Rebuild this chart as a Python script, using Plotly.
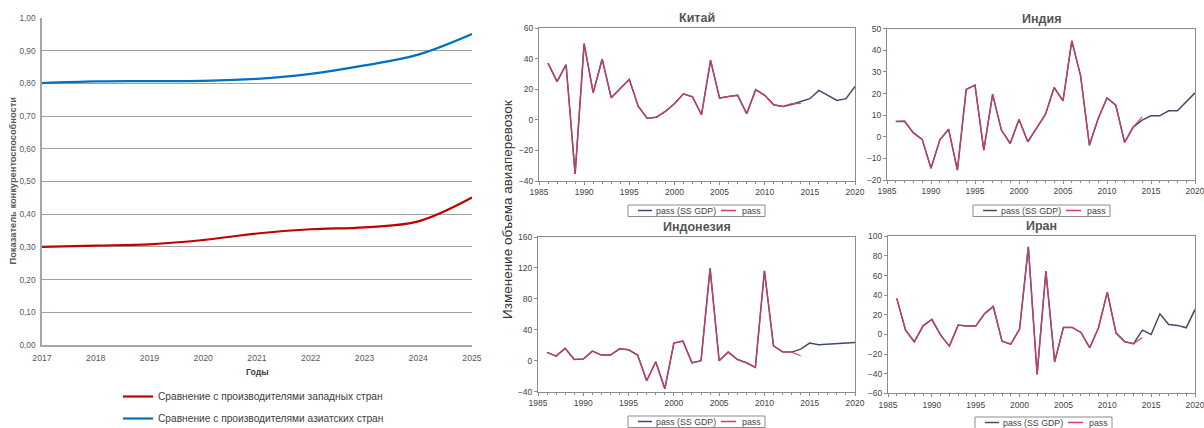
import plotly.graph_objects as go

W, H = 1204, 428

# ---------------- Left chart data ----------------
years_left = [2017, 2018, 2019, 2020, 2021, 2022, 2023, 2024, 2025]
west = [0.300, 0.304, 0.308, 0.321, 0.341, 0.354, 0.360, 0.378, 0.451]
asia = [0.801, 0.806, 0.807, 0.808, 0.814, 0.829, 0.855, 0.888, 0.951]
left_ticks = [2017, 2018, 2019, 2020, 2021, 2022, 2023, 2024, 2025]
name_west = "Сравнение с производителями западных стран"
name_asia = "Сравнение с производителями азиатских стран"

# ---------------- Right panels data ----------------
years_ss = list(range(1986, 2021))
years_pass = list(range(1986, 2015))

china_ss = [37, 25, 36, -35.4, 49.8, 17.7, 39.7, 14.4, 20.5, 26.4, 8.7, 0.9, 1.7, 5.5, 10.5,
            17, 15, 3.3, 38.9, 14.2, 15.3, 16, 4, 19.7, 16, 9.8, 8.7, 10, 12, 13.8, 19.2,
            16, 12.7, 13.8, 21.8]
china_pass = [37, 25, 36, -35.4, 49.8, 17.7, 39.7, 14.4, 20.5, 26.4, 8.7, 0.9, 1.7, 5.5, 10.5,
              17, 15, 3.3, 38.9, 14.2, 15.3, 16, 4, 19.7, 16, 9.8, 8.7, 10.5, 10.8]

india_ss = [7.1, 7.2, 1.8, -1.2, -14.6, -1.5, 3.5, -15.4, 21.9, 23.9, -6.2, 19.6, 3.1, -3.1, 8,
            -2.3, 4, 10.3, 22.8, 16.6, 44.4, 28.2, -3.9, 8.5, 18, 14.6, -2.6, 4.6, 7.7, 9.7,
            9.7, 12, 12, 16.2, 20.3]
india_pass = [7.1, 7.2, 1.8, -1.2, -14.6, -1.5, 3.5, -15.4, 21.9, 23.9, -6.2, 19.6, 3.1, -3.1, 8,
              -2.3, 4, 10.3, 22.8, 16.6, 44.4, 28.2, -3.9, 8.5, 18, 14.6, -2.6, 4.6, 9.2]

indonesia_ss = [10.8, 6, 16, 1.7, 2.2, 12.5, 7.3, 7.3, 15.5, 14.2, 7.3, -25.9, -1.3, -36.2, 22.8,
                25.4, -2.6, 0, 119.4, 0, 11.2, 1.7, -2.6, -8.6, 116.4, 19.4, 11.6, 11.2, 15,
                22.8, 20.7, 21.5, 22, 22.5, 23.5]
indonesia_pass = [10.8, 6, 16, 1.7, 2.2, 12.5, 7.3, 7.3, 15.5, 14.2, 7.3, -25.9, -1.3, -36.2, 22.8,
                  25.4, -2.6, 0, 119.4, 0, 11.2, 1.7, -2.6, -8.6, 116.4, 19.4, 11.6, 11.2, 6.5]

iran_ss = [36.7, 4.4, -7.5, 8.8, 15.3, -0.7, -11.9, 9.5, 8.5, 8.5, 21, 28.5, -6.8, -9.9, 5.4,
           89.3, -40.8, 64.5, -27.9, 7.1, 7.1, 2, -13.6, 6.8, 43.1, 1.4, -7.5, -9.5, 4.4, 0,
           21, 10.2, 9.2, 6.8, 25.5]
iran_pass = [36.7, 4.4, -7.5, 8.8, 15.3, -0.7, -11.9, 9.5, 8.5, 8.5, 21, 28.5, -6.8, -9.9, 5.4,
             89.3, -40.8, 64.5, -27.9, 7.1, 7.1, 2, -13.6, 6.8, 43.1, 1.4, -7.5, -9.5, -3.1]

panel_titles = ["Китай", "Индия", "Индонезия", "Иран"]
panel_ranges = [(-40, 60, 20), (-20, 50, 10), (-40, 160, 40), (-60, 100, 20)]
panel_ss = [china_ss, india_ss, indonesia_ss, iran_ss]
panel_pass = [china_pass, india_pass, indonesia_pass, iran_pass]
name_ss = "pass (SS GDP)"
name_pass = "pass"


def px(x):
    return x / W


def py(y):
    return 1 - y / H


NAVY = "#3f4b6e"
CRIMSON = "#d63a68"
FONT = "Liberation Sans, Arial, sans-serif"

fig = go.Figure()

# left chart traces
fig.add_trace(go.Scatter(x=years_left, y=west, name=name_west, mode="lines",
                         line=dict(color="#c00000", width=2.2, shape="spline"),
                         xaxis="x", yaxis="y", legendgroup="w"))
fig.add_trace(go.Scatter(x=years_left, y=asia, name=name_asia, mode="lines",
                         line=dict(color="#0070c0", width=2.2, shape="spline"),
                         xaxis="x", yaxis="y", legendgroup="a"))

# panel geometry (pixels): x0, x1, y_top, y_bottom
panels = [
    (539, 855, 28, 181),
    (887, 1195, 28.7, 180),
    (538, 855, 237, 391.7),
    (888, 1195, 236.3, 393.3),
]
# legend boxes (pixels): left x, top y
legend_boxes = [(628, 205), (973, 205), (628, 416), (975, 417)]

layout = dict(
    width=W, height=H,
    margin=dict(l=0, r=0, t=0, b=0, autoexpand=False),
    paper_bgcolor="white", plot_bgcolor="white",
    separators=", ",
    font=dict(family=FONT, color="#444"),
    xaxis=dict(domain=[px(42), px(472)], range=[2017, 2025], tickvals=left_ticks,
               showgrid=False, zeroline=False, showline=True, linecolor="#a6a6a6",
               linewidth=1.5, ticks="", automargin=False, ticklabelstandoff=4,
               ticklabeloverflow="allow",
               tickfont=dict(size=8.7, color="#595959")),
    yaxis=dict(domain=[py(345), py(18)], range=[0, 1], dtick=0.1, tickformat=".2f",
               showgrid=True, gridcolor="#a0a0a0", gridwidth=1, zeroline=False,
               showline=True, linecolor="#a6a6a6", linewidth=1.5, ticks="", automargin=False,
               ticklabelstandoff=3,
               tickfont=dict(size=8.3, color="#595959")),
    legend=dict(x=px(118), y=py(382), xanchor="left", yanchor="top",
                orientation="v", bgcolor="rgba(0,0,0,0)", tracegroupgap=3,
                font=dict(size=10.2, color="#404040")),
)

annotations = [
    dict(text="<b>Показатель конкурентоспособности</b>", x=px(12.5), y=py(181),
         textangle=-90, showarrow=False, font=dict(size=9.3, color="#595959")),
    dict(text="<b>Годы</b>", x=px(257), y=py(372), showarrow=False,
         font=dict(size=8.7, color="#404040")),
    dict(text="Изменение объема авиаперевозок", x=px(507), y=py(210), textangle=-90,
         showarrow=False, font=dict(size=13.5, color="#333333", family=FONT)),
]
shapes = []

for i in range(4):
    k = i + 2
    xa, ya = f"x{k}", f"y{k}"
    x0, x1, yt, yb = panels[i]
    lo, hi, dt = panel_ranges[i]
    fig.add_trace(go.Scatter(x=years_ss, y=panel_ss[i], name=name_ss, mode="lines",
                             line=dict(color=NAVY, width=1.5), xaxis=xa, yaxis=ya,
                             showlegend=False))
    fig.add_trace(go.Scatter(x=years_pass, y=panel_pass[i], name=name_pass, mode="lines",
                             line=dict(color=CRIMSON, width=1.3), opacity=0.9,
                             xaxis=xa, yaxis=ya, showlegend=False))
    layout[f"xaxis{k}"] = dict(domain=[px(x0), px(x1)], range=[1985, 2020], dtick=5,
                               anchor=ya, showgrid=False, zeroline=False, showline=True,
                               mirror=True, linecolor="#8c8c8c", linewidth=1,
                               ticks="outside", ticklen=3, tickcolor="#8c8c8c", automargin=False,
                               ticklabeloverflow="allow",
                               minor=dict(ticks="outside", ticklen=2, dtick=1, tickcolor="#8c8c8c"),
                               tickfont=dict(size=8.5, color="#444"))
    layout[f"yaxis{k}"] = dict(domain=[py(yb), py(yt)], range=[lo, hi], dtick=dt,
                               anchor=xa, showgrid=False, zeroline=False, showline=True,
                               mirror=True, linecolor="#8c8c8c", linewidth=1, automargin=False,
                               ticks="outside", ticklen=3, tickcolor="#8c8c8c",
                               ticklabeloverflow="allow",
                               tickfont=dict(size=8.5, color="#444"))
    annotations.append(dict(text=f"<b>{panel_titles[i]}</b>", x=px((x0 + x1) / 2),
                            y=py(yt - 10), showarrow=False,
                            font=dict(size=12.5, color="#555555")))
    # boxed legend of the panel
    bx, by = legend_boxes[i]
    cy = by + 5.5
    shapes.append(dict(type="rect", x0=px(bx), x1=px(bx + 137), y0=py(by + 11.5), y1=py(by),
                       line=dict(color="#8c8c8c", width=1), fillcolor="white"))
    shapes.append(dict(type="line", x0=px(bx + 10), x1=px(bx + 24), y0=py(cy), y1=py(cy),
                       line=dict(color=NAVY, width=1.5)))
    shapes.append(dict(type="line", x0=px(bx + 93), x1=px(bx + 108), y0=py(cy), y1=py(cy),
                       line=dict(color=CRIMSON, width=1.5)))
    annotations.append(dict(text=name_ss, x=px(bx + 25.5), y=py(cy), xanchor="left",
                            showarrow=False, font=dict(size=8.8, color="#444")))
    annotations.append(dict(text=name_pass, x=px(bx + 112), y=py(cy), xanchor="left",
                            showarrow=False, font=dict(size=8.8, color="#444")))

layout["annotations"] = [dict(dict(yanchor="middle", xanchor="center"), **a,
                              xref="paper", yref="paper")
                         for a in annotations]
layout["shapes"] = [dict(s, xref="paper", yref="paper") for s in shapes]
fig.update_layout(**layout)

fig.write_html("out.html", config={"displayModeBar": False},
               post_script="document.body.style.margin='0';document.body.style.overflow='hidden';")
